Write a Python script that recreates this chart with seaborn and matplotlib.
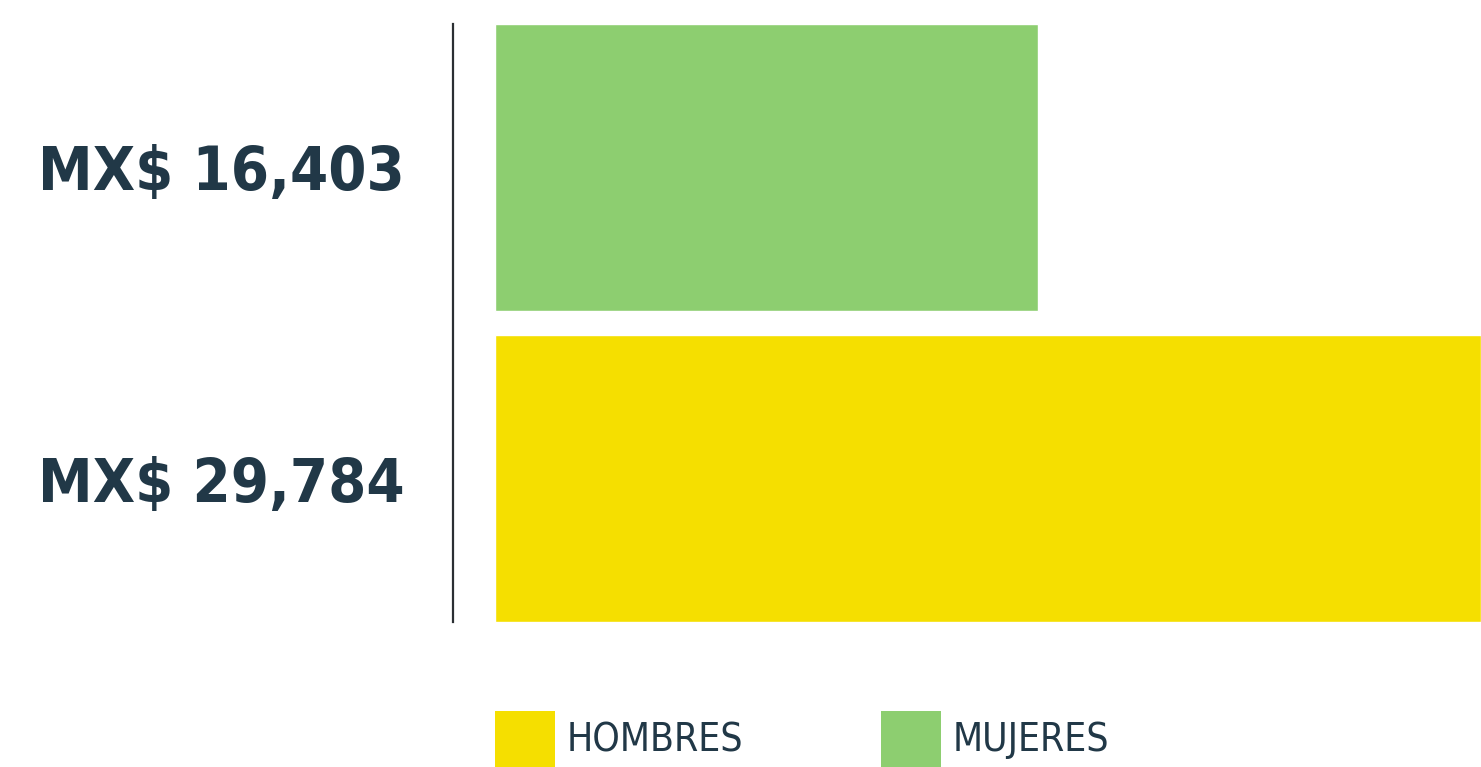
import matplotlib
matplotlib.use("Agg")
import matplotlib.pyplot as plt
import seaborn as sns
import pandas as pd
from matplotlib.patches import Patch

generos = ["MUJERES", "HOMBRES"]
ingresos = [16403, 29784]
colores = ["#8dce70", "#f5df00"]
orden_leyenda = ["HOMBRES", "MUJERES"]
etiquetas = [f"MX$ {v:,}" for v in ingresos]

sns.set_theme(style="white")
plt.rcParams['font.family'] = ['DejaVu Sans']

TEXT = "#213847"
W, H = 1481, 767
fig = plt.figure(figsize=(W / 100, H / 100), dpi=100)
ax = fig.add_axes([453 / W, 1 - 622 / H, (W - 453) / W, (622 - 24) / H])

df = pd.DataFrame({"genero": generos, "ingreso": ingresos})
paleta = dict(zip(generos, colores))
sns.barplot(data=df, y="genero", x="ingreso", hue="genero", palette=paleta,
            orient="h", width=0.92, saturation=1, legend=False, ax=ax)

ax.set_xlim(-1269, max(ingresos))
ax.set_ylim(1.46, -0.46)
for s in ["top", "right", "bottom"]:
    ax.spines[s].set_visible(False)
ax.spines["left"].set_color("#2b2f33")
ax.spines["left"].set_linewidth(1.6)
ax.set_xticks([])
ax.set_xlabel("")
ax.set_ylabel("")
ax.set_yticks([0, 1])
ax.set_yticklabels(etiquetas, fontsize=44, fontweight="bold", fontstretch="condensed", color=TEXT)
ax.tick_params(axis="y", length=0, pad=35)

handles = [Patch(facecolor=paleta[g], edgecolor="none", label=g) for g in orden_leyenda]
leg = fig.legend(handles=handles, loc="lower left", bbox_to_anchor=(495 / W, 0),
                 ncol=2, frameon=False, handlelength=1.54, handleheight=1.84,
                 handletextpad=0.3, columnspacing=3.55, borderpad=0, borderaxespad=0,
                 prop={"size": 28, "weight": "light", "stretch": "condensed"})
for t in leg.get_texts():
    t.set_color(TEXT)

fig.savefig("out.png", dpi=100)
